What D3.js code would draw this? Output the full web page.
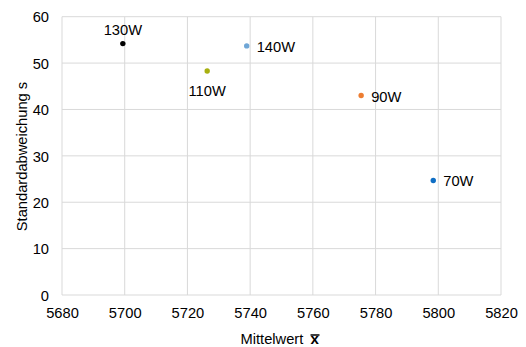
<!DOCTYPE html>
<html>
<head>
<meta charset="utf-8">
<script src="https://cdn.jsdelivr.net/npm/d3@7"></script>
<style>
  body { margin: 0; background: #fff; }
  text { font-family: "Liberation Sans", Arial, sans-serif; }
</style>
</head>
<body>
<div id="chart"></div>
<script>
// data
var labels = ['130W', '110W', '140W', '90W', '70W'];
var meanX  = [5699.4, 5726.3, 5738.9, 5775.4, 5798.4];
var stdS   = [54.2, 48.3, 53.7, 43.0, 24.7];
var colors = ['#000000', '#a8b010', '#6fa6d6', '#ed7d31', '#0f6ec4'];
var labelPos = ['top', 'bottom', 'right', 'right', 'right'];
var xTicks = [5680, 5700, 5720, 5740, 5760, 5780, 5800, 5820];
var yTicks = [0, 10, 20, 30, 40, 50, 60];

var W = 526, H = 347;
var m = {left: 62, right: 25, top: 16.7, bottom: 52};

var svg = d3.select('#chart')
  .append('svg')
  .attr('width', W)
  .attr('height', H);

var x = d3.scaleLinear().domain([5680, 5820]).range([m.left, W - m.right]);
var y = d3.scaleLinear().domain([0, 60]).range([H - m.bottom, m.top]);

// grid
svg.append('g')
  .selectAll('line.vg')
  .data(xTicks)
  .enter()
  .append('line')
  .attr('x1', function(d){ return x(d); })
  .attr('x2', function(d){ return x(d); })
  .attr('y1', y(0))
  .attr('y2', y(60))
  .attr('stroke', '#d9d9d9')
  .attr('stroke-width', 1);

svg.append('g')
  .selectAll('line.hg')
  .data(yTicks)
  .enter()
  .append('line')
  .attr('x1', x(5680))
  .attr('x2', x(5820))
  .attr('y1', function(d){ return y(d); })
  .attr('y2', function(d){ return y(d); })
  .attr('stroke', '#d9d9d9')
  .attr('stroke-width', 1);

// axes (labels only, Excel style)
var xAxis = svg.append('g')
  .attr('transform', 'translate(0,' + y(0) + ')')
  .call(d3.axisBottom(x).tickValues(xTicks).tickFormat(d3.format('d')).tickSize(0).tickPadding(13));
var yAxis = svg.append('g')
  .attr('transform', 'translate(' + x(5680) + ',0)')
  .call(d3.axisLeft(y).tickValues(yTicks).tickFormat(d3.format('d')).tickSize(0).tickPadding(13));

[xAxis, yAxis].forEach(function(a){
  a.select('.domain').remove();
  a.selectAll('text')
    .attr('fill', '#000')
    .style('font-size', '14.7px')
    .style('font-family', '"Liberation Sans", Arial, sans-serif');
});
yAxis.selectAll('text').attr('dy', '0.35em');

// axis titles
svg.append('text')
  .attr('x', 240.5)
  .attr('y', 344.3)
  .style('font-size', '14.7px')
  .text('Mittelwert');

// x-bar: bold x plus an overline
var xbar = svg.append('text')
  .attr('x', 310.5)
  .attr('y', 344.3)
  .style('font-size', '15px')
  .style('font-weight', 'bold')
  .text('x');
var bb = xbar.node().getBBox();
svg.append('line')
  .attr('x1', bb.x)
  .attr('x2', bb.x + bb.width)
  .attr('y1', 335)
  .attr('y2', 335)
  .attr('stroke', '#000')
  .attr('stroke-width', 1.5);

svg.append('text')
  .attr('transform', 'translate(26.5,' + 156.5 + ') rotate(-90)')
  .attr('text-anchor', 'middle')
  .style('font-size', '14.7px')
  .text('Standardabweichung s');

// points
var pts = labels.map(function(l, i){
  return {label: l, mx: meanX[i], s: stdS[i], c: colors[i], pos: labelPos[i]};
});

svg.append('g')
  .selectAll('circle')
  .data(pts)
  .enter()
  .append('circle')
  .attr('cx', function(d){ return x(d.mx); })
  .attr('cy', function(d){ return y(d.s); })
  .attr('r', 2.7)
  .attr('fill', function(d){ return d.c; });

svg.append('g')
  .selectAll('text')
  .data(pts)
  .enter()
  .append('text')
  .style('font-size', '14.7px')
  .attr('fill', '#000')
  .attr('text-anchor', function(d){ return d.pos === 'right' ? 'start' : 'middle'; })
  .attr('x', function(d){ return d.pos === 'right' ? x(d.mx) + 10 : x(d.mx); })
  .attr('y', function(d){
    if (d.pos === 'top') return y(d.s) - 8.7;
    if (d.pos === 'bottom') return y(d.s) + 25;
    return y(d.s) + 6;
  })
  .text(function(d){ return d.label; });
</script>
</body>
</html>
